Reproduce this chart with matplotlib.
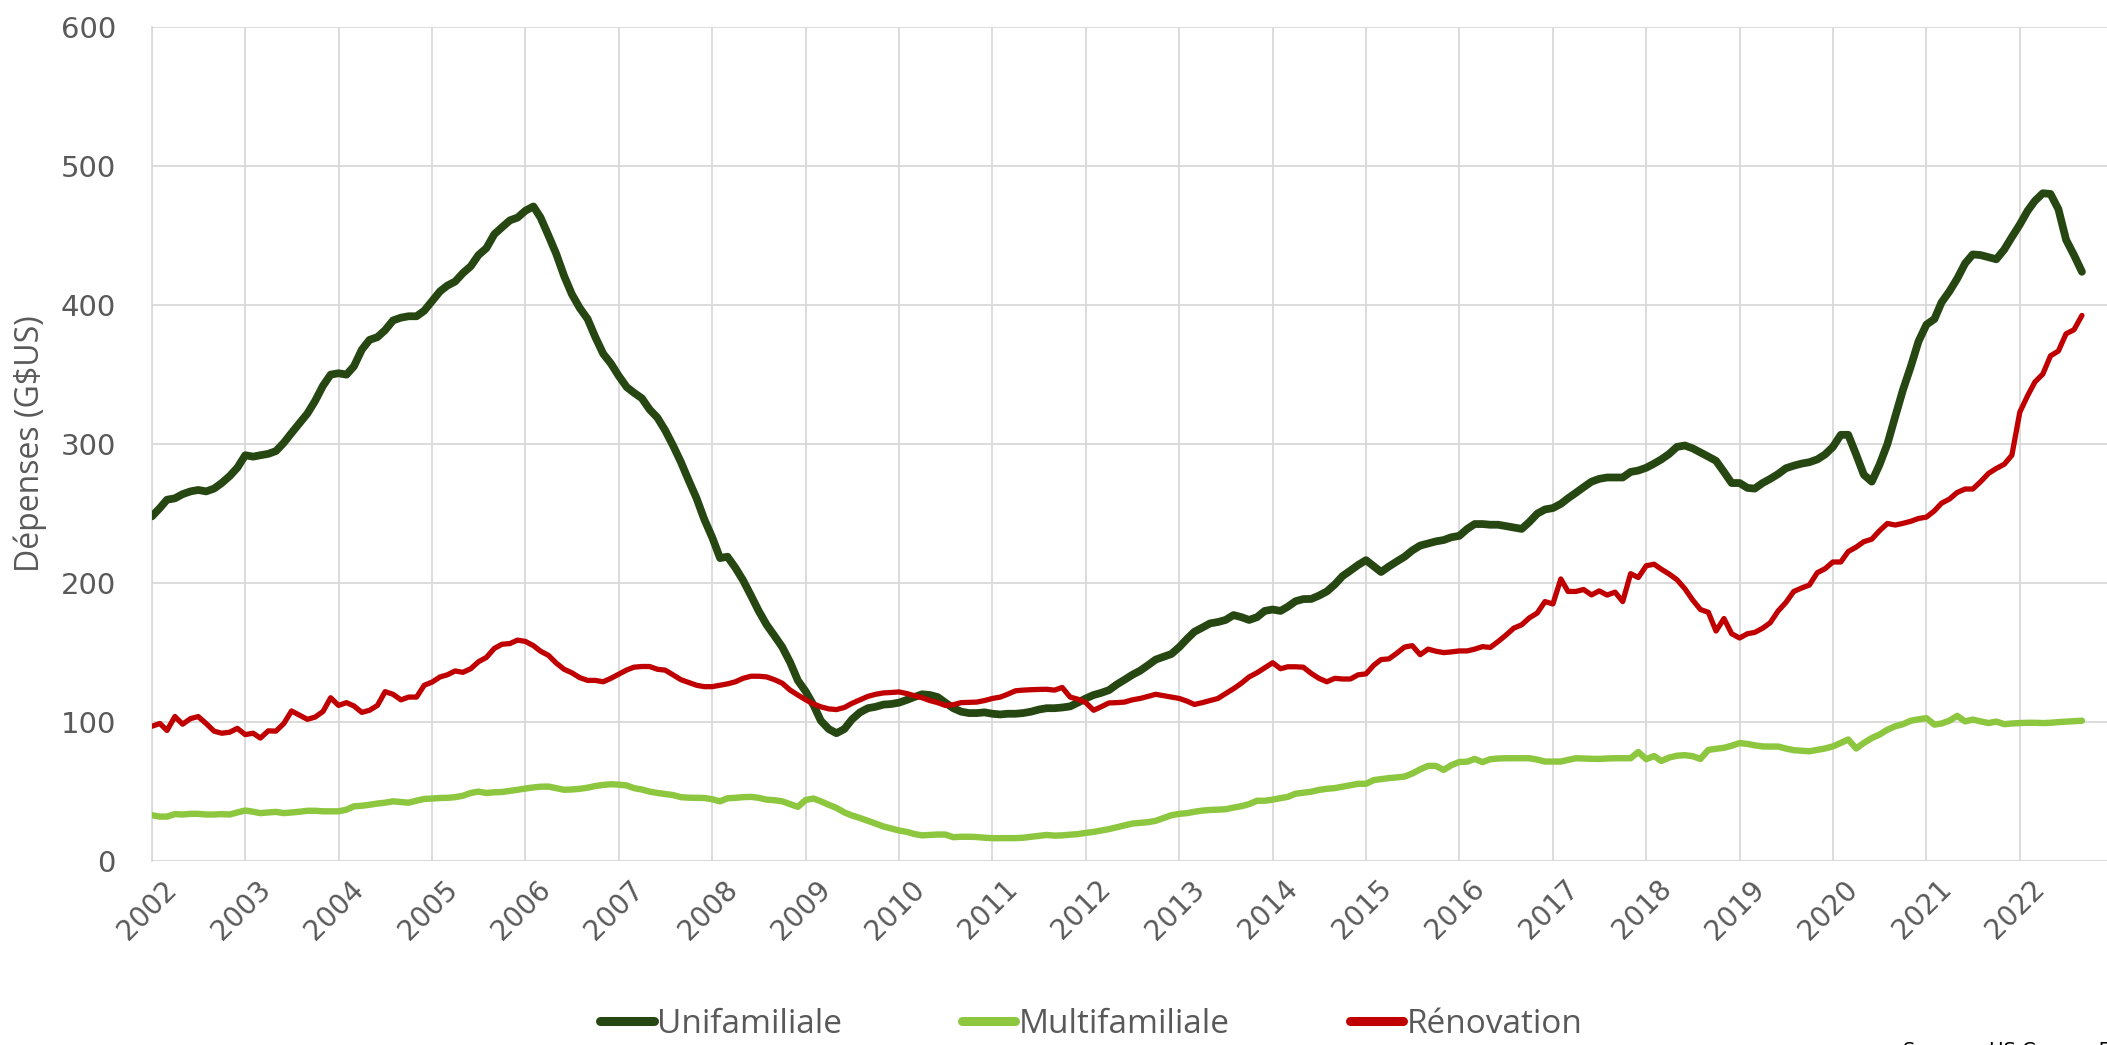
import numpy as np
import pandas as pd
import matplotlib
matplotlib.use("Agg")
import matplotlib.pyplot as plt
import matplotlib.transforms as mtransforms
from matplotlib.lines import Line2D

start_month = "2002-01-01"
years = list(range(2002, 2023))

unifamiliale = [
    248, 254, 260, 261, 264, 266, 267, 266, 268, 272, 277, 283,
    292, 291, 292, 293, 295, 301, 308, 315, 322, 331, 342, 350,
    351, 350, 356, 368, 375, 377, 382, 389, 391, 392, 392, 396,
    403, 410, 414, 417, 423, 428, 436, 441, 451, 456, 461, 463,
    468, 471, 463, 450, 437, 421, 408, 398, 390, 377, 365, 358,
    349, 341, 337, 333, 325, 319, 310, 299, 287, 274, 261, 246,
    233, 218, 219, 211, 202, 191, 180, 170, 162, 154, 143, 130,
    122, 112, 101, 95, 92, 95, 102, 107, 110, 111, 112.6, 113,
    114, 116, 118, 120, 119.5, 118, 114, 110, 107.5, 106.5, 106.5, 107,
    106, 105.5, 106, 106, 106.5, 107.5, 109, 110, 110, 110.5, 111.3, 114,
    117, 119.5, 121, 123, 127, 130.5, 134, 137, 141, 145, 147, 149,
    154, 160, 165, 168, 171, 172, 173.5, 177, 175.5, 173.5, 175.5, 180,
    181, 180, 183, 187, 188.5, 188.6, 191, 194, 199, 205, 209, 213,
    216.5, 212, 208, 212, 215.5, 219, 223.5, 227, 228.5, 230, 231, 233,
    234, 239, 242.5, 242.5, 242, 242, 241, 240, 239, 244, 250, 253,
    254, 257, 261, 265, 269, 273, 275, 276, 276, 276, 280, 281,
    283, 286, 289, 293, 298, 299, 297, 294, 291, 288, 280, 272,
    272, 268.5, 268, 272, 275, 278.5, 282.6, 284.5, 286, 287, 289, 292.5,
    298, 306.7, 306.7, 292.5, 278, 273, 285, 300, 320, 339, 356, 374,
    386, 390, 402, 410, 419, 430, 436.5, 436, 434.5, 433, 440, 449,
    458, 468, 475, 480.5, 480, 469, 447, 436, 424,
]

multifamiliale = [
    33, 32, 32, 33.8, 33.5, 34, 34, 33.5, 33.5, 33.8, 33.5, 35,
    36.4, 35.5, 34.5, 35, 35.4, 34.5, 35, 35.5, 36.2, 36.2, 35.8, 35.8,
    35.8, 37, 39.4, 39.8, 40.5, 41.4, 42, 43, 42.5, 42, 43.5, 44.7,
    45, 45.4, 45.5, 46, 47, 49, 50, 49, 49.5, 49.7, 50.5, 51.3,
    52.2, 53, 53.5, 53.6, 52.5, 51.3, 51.5, 52, 52.8, 54, 54.8, 55.3,
    55, 54.4, 52.5, 51.5, 50, 49, 48.3, 47.5, 46, 45.6, 45.5, 45.4,
    44.5, 43, 45.2, 45.5, 46, 46.2, 45.5, 44.2, 43.8, 43, 41, 39,
    44, 45, 43, 40.5, 38.3, 35, 32.8, 31, 29, 27, 24.9, 23.5,
    22, 21, 19.5, 18.5, 18.8, 19.1, 19.1, 17.2, 17.5, 17.5, 17.3, 16.8,
    16.5, 16.5, 16.5, 16.5, 16.8, 17.5, 18.2, 18.8, 18.3, 18.5, 19, 19.4,
    20.3, 21, 22, 23, 24.3, 25.6, 27, 27.5, 28, 29, 31, 33,
    34, 34.5, 35.5, 36.3, 36.8, 37, 37.3, 38.5, 39.5, 41, 43.4, 43.4,
    44.2, 45.3, 46.2, 48.5, 49.2, 49.9, 51.2, 52, 52.5, 53.5, 54.6, 55.6,
    55.6, 58.3, 59, 59.7, 60.2, 60.8, 63, 66, 68.5, 68.5, 65.6, 69,
    71.3, 71.5, 73.5, 71.2, 73.3, 73.8, 74, 74, 74, 74, 73, 71.6,
    71.6, 71.6, 72.8, 74, 73.8, 73.6, 73.5, 73.8, 74, 74, 74, 78.5,
    73.3, 75.6, 72, 74.5, 75.8, 76.2, 75.5, 73.5, 80, 80.8, 81.5, 83,
    84.9, 84.3, 83.3, 82.5, 82.4, 82.4, 81, 79.8, 79.4, 79, 80, 81,
    82.5, 85, 87.5, 81, 85, 88.5, 91, 94.5, 97, 98.5, 101, 102,
    102.8, 98.2, 99, 101, 104.5, 100.5, 101.8, 100.5, 99.3, 100.4, 98.5, 99,
    99.3, 99.5, 99.5, 99.3, 99.5, 100, 100.3, 100.6, 101,
]

renovation = [
    97, 99, 94, 104, 98.5, 102.5, 104, 99, 93.5, 92, 92.7, 95.5,
    91, 92, 88.5, 93.7, 93.5, 99, 108, 105, 102, 103.6, 107.6, 117.5,
    112, 114, 111.6, 107, 108.5, 112, 121.9, 120, 116, 118, 118, 126.5,
    128.8, 132.5, 134, 136.8, 135.8, 138.4, 143.4, 146.5, 153, 156, 156.5, 159,
    158, 155, 151, 148, 142.5, 138, 135.5, 132, 130, 130, 129, 131.5,
    134.5, 137.5, 139.5, 140, 140, 138, 137.4, 134, 130.5, 128.5, 126.5, 125.5,
    125.5, 126.5, 127.5, 129, 131.5, 133, 133, 132.5, 130.5, 128, 123, 119.5,
    116, 113, 111, 109.5, 109, 110.5, 113.5, 116, 118.5, 120, 121, 121.3,
    121.7, 120.5, 119, 117.5, 115.5, 114, 112, 112.5, 114, 114.2, 114.4, 115.5,
    117, 118, 120, 122.5, 123, 123.3, 123.5, 123.6, 123, 124.9, 118, 116.5,
    114, 108.5, 111, 113.8, 114, 114.4, 116, 117, 118.5, 120, 119, 118,
    117, 115, 112.7, 114, 115.5, 117, 120.5, 124, 128, 132.5, 135.5, 139,
    142.7, 138.4, 139.8, 139.8, 139.5, 135, 131.5, 129, 131.5, 131, 131, 134,
    134.7, 141, 145, 145.5, 149.5, 154, 155, 148.5, 152.5, 151, 150, 150.5,
    151.2, 151.2, 152.5, 154.3, 153.7, 158, 162.5, 167.6, 170, 175, 178.5, 186.7,
    185, 203, 194, 194, 195.4, 191.5, 194.4, 191.4, 193.5, 186.7, 206.8, 204,
    212.5, 213.6, 210, 206.5, 202.5, 196, 188, 181, 179, 165.5, 174.5, 163.6,
    160.5, 163.6, 164.5, 167.5, 171.5, 180, 186, 194, 196.5, 198.6, 207.5, 210.3,
    215.2, 215.2, 222.7, 225.9, 229.8, 231.6, 237.6, 242.9, 241.8, 243, 244.5, 246.5,
    247.5, 252, 257.5, 260.5, 265.2, 267.7, 267.7, 273, 279, 282.5, 285.5, 292,
    323, 335, 344.7, 350.4, 363.5, 367, 379.4, 382.3, 392.6,
]

series_names = ["Unifamiliale", "Multifamiliale", "Rénovation"]
colors = ["#264712", "#8DC63F", "#C00000"]
widths = [5.6, 4.6, 3.8]

dates = pd.date_range(start_month, periods=len(unifamiliale), freq="MS")

fig = plt.figure(figsize=(21.07, 10.45), dpi=100)
ax_bottom, ax_h = 0.176, 0.798
ax = fig.add_axes([0.0721, ax_bottom, 1.0 - 0.0721, ax_h])

for vals, c, lw in zip([unifamiliale, multifamiliale, renovation], colors, widths):
    ax.plot(dates, vals, color=c, lw=lw, solid_capstyle="round", solid_joinstyle="round", zorder=3)

ax.set_ylim(0, 600)
ax.set_yticks(range(0, 601, 100))
ax.set_xlim(pd.Timestamp("2002-01-01"), pd.Timestamp("2022-12-08"))
ax.set_xticks([pd.Timestamp(f"{y}-01-01") for y in years])
ax.set_xticklabels([str(y) for y in years])

ax.grid(True, color="#D9D9D9", lw=1.3, zorder=0)
for s in ["top", "right", "bottom"]:
    ax.spines[s].set_visible(False)
ax.spines["left"].set_color("#D9D9D9")
ax.spines["left"].set_linewidth(1.3)
ax.axhline(0, color="#D9D9D9", lw=1.3, zorder=1)

ax.tick_params(axis="y", length=0, pad=26, labelsize=21, labelcolor="#595959")
ax.tick_params(axis="x", length=0, pad=10, labelsize=20, labelcolor="#595959")
offset = mtransforms.ScaledTranslation(11 / 100, 0, fig.dpi_scale_trans)
for lab in ax.get_xticklabels():
    lab.set_rotation(45)
    lab.set_ha("right")
    lab.set_va("top")
    lab.set_rotation_mode("anchor")
    lab.set_transform(lab.get_transform() + offset)

cond = ["Liberation Sans Narrow", "Open Sans", "DejaVu Sans"]
fig.text(0.0145, ax_bottom + ax_h / 2, "Dépenses (G$US)", rotation=90, ha="center", va="center",
         fontsize=23, color="#595959", family=cond)

handles = [Line2D([0], [0], color=c, lw=6.5, solid_capstyle="round") for c in colors]
leg = fig.legend(handles, series_names, loc="center", bbox_to_anchor=(0.518, 0.02),
                 ncol=3, frameon=False, handlelength=1.6, handletextpad=0.1,
                 columnspacing=3.6, prop={"family": cond, "size": 24})
for t in leg.get_texts():
    t.set_color("#595959")

fig.text(0.903, 0.004, "Source : US Census Bureau", ha="left", va="top", fontsize=14, color="#000000")

fig.savefig("out.png", dpi=100)
